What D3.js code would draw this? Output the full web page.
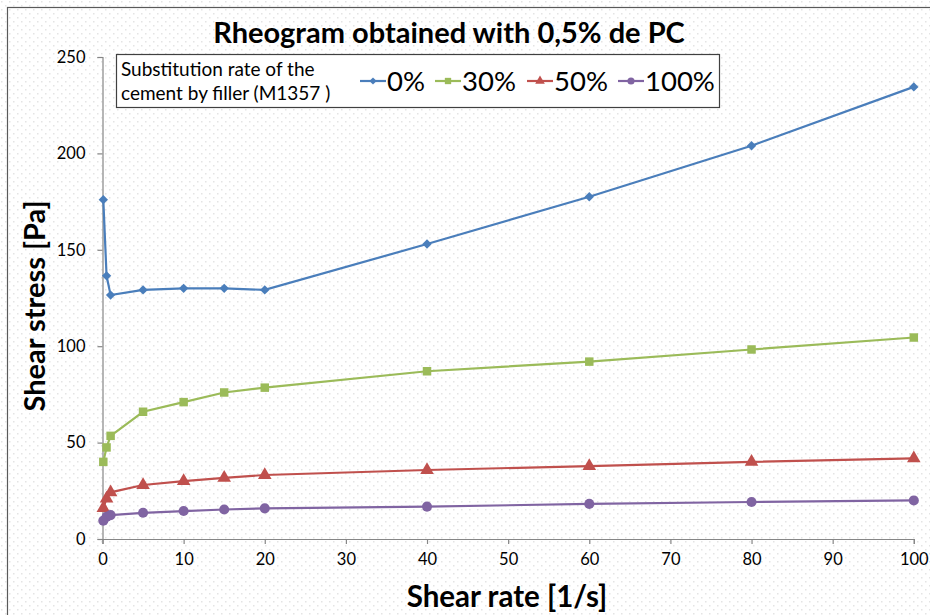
<!DOCTYPE html>
<html>
<head>
<meta charset="utf-8">
<script src="https://cdn.jsdelivr.net/npm/d3@7"></script>
<style>
  body { margin: 0; background: #fff; }
  text { font-family: Lato, "Open Sans", sans-serif; fill: #000; }
</style>
</head>
<body>
<svg id="chart" width="930" height="615"></svg>
<script>
const shearRate = [0.1, 0.5, 1, 5, 10, 15, 20, 40, 60, 80, 100];
const stress0 = [176, 136.5, 126.5, 129.2, 130, 130, 129.2, 153, 177.5, 204, 234.5];
const stress30 = [40, 47.5, 53.5, 66, 71, 76, 78.5, 87, 92, 98.3, 104.5];
const stress50 = [16, 21, 24.2, 28, 30, 31.7, 33.2, 35.8, 37.8, 40, 41.8];
const stress100 = [9.5, 11.5, 12.4, 13.6, 14.5, 15.3, 15.9, 16.8, 18.2, 19.2, 20];
const xTicks = [0, 10, 20, 30, 40, 50, 60, 70, 80, 90, 100];
const yTicks = [0, 50, 100, 150, 200, 250];

const seriesNames = ['0%', '30%', '50%', '100%'];
const seriesColors = ['#4a7ebb', '#9bbb59', '#c0504d', '#8064a2'];
const seriesShapes = [d3.symbolSquare, d3.symbolSquare, d3.symbolTriangle, d3.symbolCircle];
const seriesRotate = [45, 0, 0, 0];
const seriesSizes = [44, 72, 80, 80];
const seriesValues = [stress0, stress30, stress50, stress100];

const svg = d3.select('#chart');

// faint dotted background like the original image
const defs = svg.append('defs');
const pat = defs.append('pattern')
  .attr('id', 'dots')
  .attr('width', 8).attr('height', 8)
  .attr('patternUnits', 'userSpaceOnUse');
pat.append('rect').attr('x', 1).attr('y', 1).attr('width', 1.5).attr('height', 1.5).attr('fill', '#e4e4e4');
pat.append('rect').attr('x', 5).attr('y', 5).attr('width', 1.5).attr('height', 1.5).attr('fill', '#e4e4e4');

svg.append('rect').attr('width', 930).attr('height', 615).attr('fill', '#fff');
svg.append('rect').attr('width', 930).attr('height', 615).attr('fill', 'url(#dots)');

// outer chart frame (runs off the right/bottom edge)
svg.append('rect')
  .attr('x', 7.5).attr('y', 7.5)
  .attr('width', 940).attr('height', 620)
  .attr('fill', 'none')
  .attr('stroke', '#595959')
  .attr('stroke-width', 1.2);

const x = d3.scaleLinear().domain([0, 100]).range([102.5, 913.8]);
const y = d3.scaleLinear().domain([0, 250]).range([539, 57]);

const axisX = d3.axisBottom(x).tickValues(xTicks).tickSize(5).tickPadding(9);
const axisY = d3.axisLeft(y).tickValues(yTicks).tickSize(5).tickPadding(12);

const gx = svg.append('g').attr('transform', `translate(0,${y(0)})`).call(axisX);
const gy = svg.append('g').attr('transform', `translate(${x(0)},0)`).call(axisY);

[gx, gy].forEach(g => {
  g.select('.domain').attr('stroke', '#868686').attr('stroke-width', 1.2);
  g.selectAll('.tick line').attr('stroke', '#868686').attr('stroke-width', 1.2);
  g.selectAll('.tick text')
    .attr('font-family', 'Lato, sans-serif')
    .attr('font-size', 16.5)
    .attr('fill', '#000');
});

// series
const lineGen = d3.line().x(d => x(d[0])).y(d => y(d[1]));

seriesValues.forEach((vals, i) => {
  const pts = shearRate.map((r, j) => [r, vals[j]]);
  svg.append('path')
    .datum(pts)
    .attr('d', lineGen)
    .attr('fill', 'none')
    .attr('stroke', seriesColors[i])
    .attr('stroke-width', 2.2);
  svg.append('g')
    .selectAll('path')
    .data(pts)
    .join('path')
    .attr('transform', d => `translate(${x(d[0])},${y(d[1])}) rotate(${seriesRotate[i]})`)
    .attr('d', d3.symbol().type(seriesShapes[i]).size(seriesSizes[i]))
    .attr('fill', seriesColors[i]);
});

// title and axis titles
svg.append('text')
  .attr('x', 449).attr('y', 43)
  .attr('text-anchor', 'middle')
  .attr('font-size', 29)
  .attr('font-weight', 'bold')
  .text('Rheogram obtained with 0,5% de PC');

svg.append('text')
  .attr('x', 507).attr('y', 607)
  .attr('text-anchor', 'middle')
  .attr('font-size', 29.5)
  .attr('font-weight', 'bold')
  .text('Shear rate [1/s]');

svg.append('text')
  .attr('transform', 'translate(45,306) rotate(-90)')
  .attr('text-anchor', 'middle')
  .attr('font-size', 29)
  .attr('font-weight', 'bold')
  .text('Shear stress [Pa]');

// legend
const legend = svg.append('g');
legend.append('rect')
  .attr('x', 116.5).attr('y', 54.5)
  .attr('width', 603).attr('height', 53)
  .attr('fill', '#fff')
  .attr('stroke', '#404040')
  .attr('stroke-width', 1.2);

legend.append('text').attr('x', 121).attr('y', 76).attr('font-size', 19).text('Substitution rate of the');
legend.append('text').attr('x', 121).attr('y', 100).attr('font-size', 19).text('cement by filler (M1357 )');

const legendX = [360, 435, 527, 618];
seriesNames.forEach((name, i) => {
  const lx = legendX[i];
  legend.append('line')
    .attr('x1', lx).attr('x2', lx + 26)
    .attr('y1', 81).attr('y2', 81)
    .attr('stroke', seriesColors[i])
    .attr('stroke-width', 2.2);
  legend.append('path')
    .attr('transform', `translate(${lx + 13},81) rotate(${seriesRotate[i]})`)
    .attr('d', d3.symbol().type(seriesShapes[i]).size(i === 0 ? 26 : 40))
    .attr('fill', seriesColors[i]);
  legend.append('text')
    .attr('x', lx + 27).attr('y', 91)
    .attr('font-size', 27.5)
    .text(name);
});
</script>
</body>
</html>
